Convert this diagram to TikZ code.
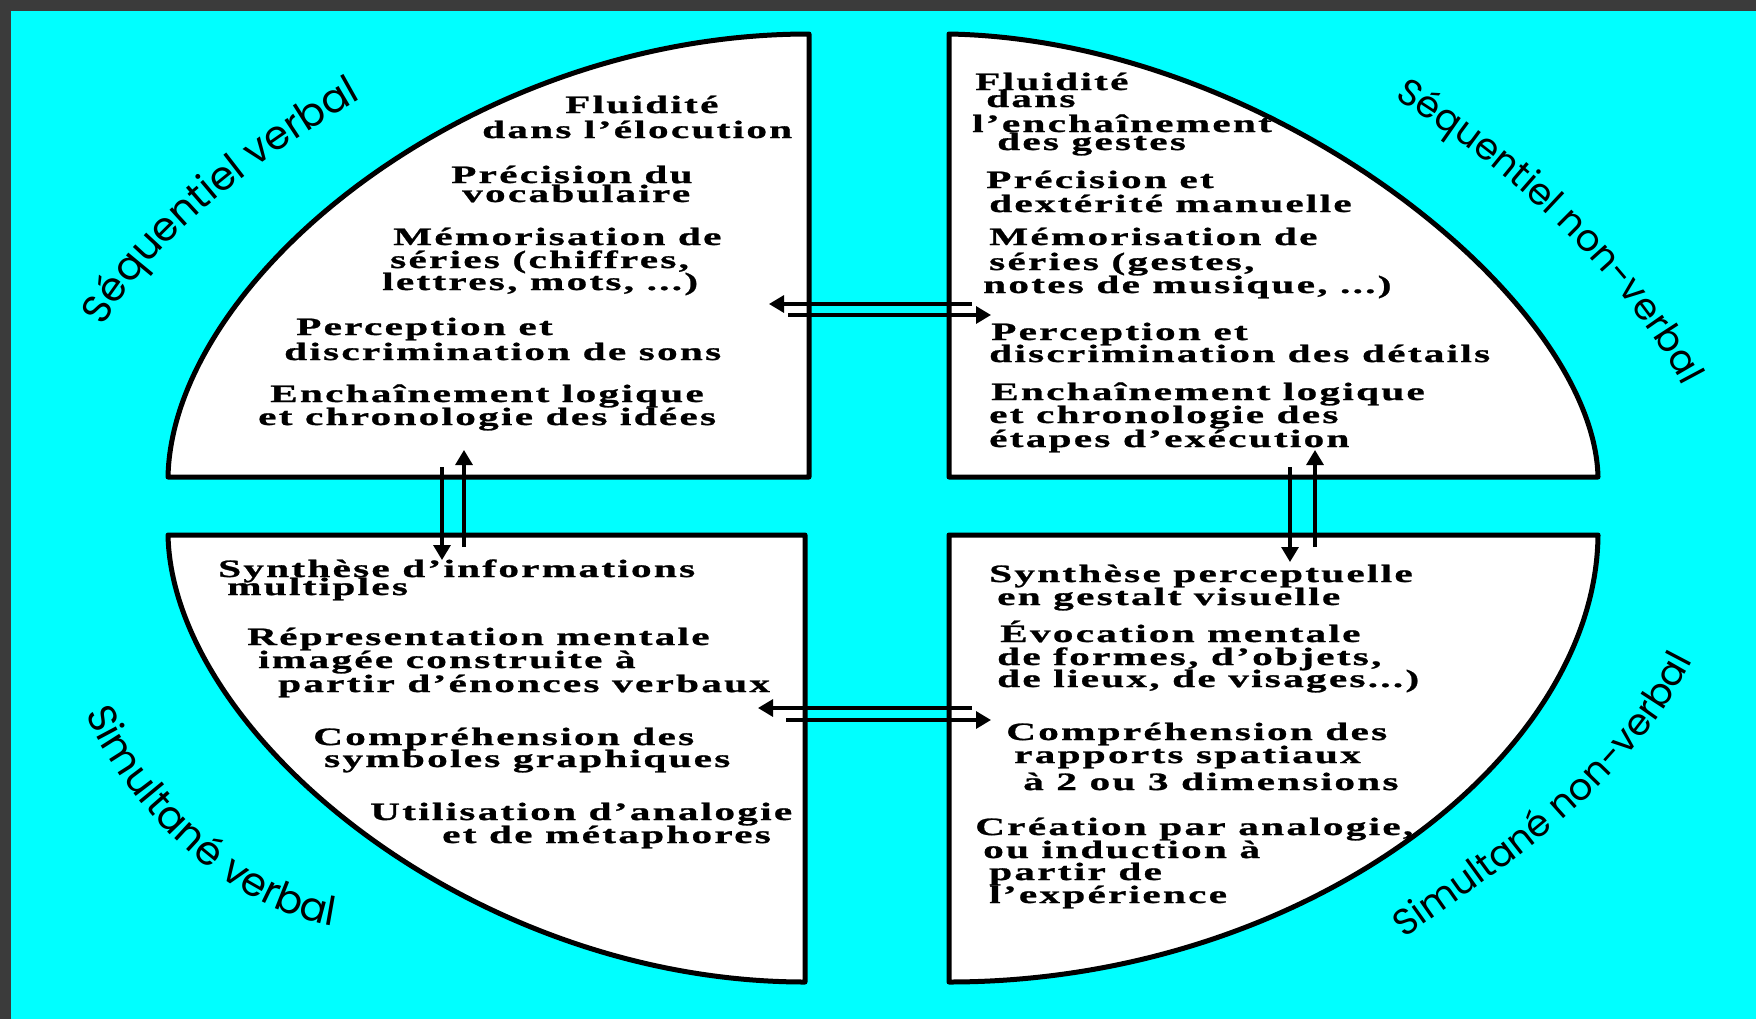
\documentclass[tikz,border=0pt]{standalone}
\usepackage{fontspec}
\usetikzlibrary{arrows.meta,decorations.text}
\newfontfamily\itemfont[FakeStretch=1.65,LetterSpace=9,FakeBold=1]{Liberation Serif}
\newfontfamily\labfont{Poppins}
\definecolor{bgcyan}{HTML}{00FFFF}
\definecolor{framegray}{HTML}{3B3B3B}
\tikzset{
    quad/.style={draw=black, fill=white, line width=5bp, line join=round},
    item/.style={font=\itemfont\bfseries\fontsize{25bp}{25bp}\selectfont, anchor=base west, inner sep=0pt},
    arr/.style={line width=3.2bp, -{Triangle[length=15bp,width=17bp]}},
    curved/.style 2 args={decorate, decoration={text along path, text align=center,
        text={|\labfont\fontsize{#1bp}{#1bp}\selectfont|#2}}}
}
\begin{document}
\begin{tikzpicture}[x=1bp,y=-1bp]
                \useasboundingbox (0,0) rectangle (1756,1019);
                \fill[framegray] (0,0) rectangle (1756,1019);
                \fill[bgcyan] (11,11) rectangle (1756,1019);

                \draw[quad] (168,477) .. controls (172,280) and (470,34) .. (809,34) -- (809,477) -- cycle;
                \draw[quad] (949,34) .. controls (1270,40) and (1594,300) .. (1598,477) -- (949,477) -- cycle;
                \draw[quad] (168,535) .. controls (172,732) and (470,982) .. (805,982) -- (805,535) -- cycle;
                \draw[quad] (949,535) -- (1598,535) .. controls (1596,760) and (1300,982) .. (949,982) -- cycle;

                \node[item] (sv1) at (565,113) {Fluidité};
                \node[item] (sv2) at (482,138) {dans l’élocution};
                \node[item] (sv3) at (451,183) {Précision du};
                \node[item] (sv4) at (462,202) {vocabulaire};
                \node[item] (sv5) at (393,245) {Mémorisation de};
                \node[item] (sv6) at (390,268) {séries (chiffres,};
                \node[item] (sv7) at (382,290) {lettres, mots, ...)};
                \node[item] (sv8) at (296,335) {Perception et};
                \node[item] (sv9) at (284,360) {discrimination de sons};
                \node[item] (sv10) at (270,402) {Enchaînement logique};
                \node[item] (sv11) at (258,425) {et chronologie des idées};

                \node[item] (snv1) at (975,90) {Fluidité};
                \node[item] (snv2) at (986,107) {dans};
                \node[item] (snv3) at (972,132) {l’enchaînement};
                \node[item] (snv4) at (997,150) {des gestes};
                \node[item] (snv5) at (986,188) {Précision et};
                \node[item] (snv6) at (989,212) {dextérité manuelle};
                \node[item] (snv7) at (989,245) {Mémorisation de};
                \node[item] (snv8) at (989,270) {séries (gestes,};
                \node[item] (snv9) at (983,293) {notes de musique, ...)};
                \node[item] (snv10) at (991,340) {Perception et};
                \node[item] (snv11) at (989,362) {discrimination des détails};
                \node[item] (snv12) at (991,400) {Enchaînement logique};
                \node[item] (snv13) at (989,423) {et chronologie des};
                \node[item] (snv14) at (989,447) {étapes d’exécution};

                \node[item] (smv1) at (218,577) {Synthèse d’informations};
                \node[item] (smv2) at (227,595) {multiples};
                \node[item] (smv3) at (247,645) {Répresentation mentale};
                \node[item] (smv4) at (258,668) {imagée construite à};
                \node[item] (smv5) at (278,692) {partir d’énonces verbaux};
                \node[item] (smv6) at (313,745) {Compréhension des};
                \node[item] (smv7) at (324,767) {symboles graphiques};
                \node[item] (smv8) at (370,820) {Utilisation d’analogie};
                \node[item] (smv9) at (442,843) {et de métaphores};

                \node[item] (smnv1) at (989,582) {Synthèse perceptuelle};
                \node[item] (smnv2) at (997,605) {en gestalt visuelle};
                \node[item] (smnv3) at (1000,642) {Évocation mentale};
                \node[item] (smnv4) at (997,665) {de formes, d’objets,};
                \node[item] (smnv5) at (997,687) {de lieux, de visages...)};
                \node[item] (smnv6) at (1006,740) {Compréhension des};
                \node[item] (smnv7) at (1014,763) {rapports spatiaux};
                \node[item] (smnv8) at (1023,790) {à 2 ou 3 dimensions};
                \node[item] (smnv9) at (975,835) {Création par analogie,};
                \node[item] (smnv10) at (983,858) {ou induction à};
                \node[item] (smnv11) at (989,880) {partir de};
                \node[item] (smnv12) at (989,903) {l’expérience};

                \coordinate (seqA) at (972,304);
                \coordinate (seqB) at (769,304);
                \coordinate (seqC) at (788,315);
                \coordinate (seqD) at (991,315);
                \coordinate (simA) at (972,708);
                \coordinate (simB) at (758,708);
                \coordinate (simC) at (786,720);
                \coordinate (simD) at (991,720);
                \coordinate (verbA) at (442,467);
                \coordinate (verbB) at (442,560);
                \coordinate (verbC) at (464,547);
                \coordinate (verbD) at (464,450);
                \coordinate (nonvA) at (1290,467);
                \coordinate (nonvB) at (1290,562);
                \coordinate (nonvC) at (1315,547);
                \coordinate (nonvD) at (1315,450);

                \draw[arr] (seqA) -- (seqB);
                \draw[arr] (seqC) -- (seqD);
                \draw[arr] (simA) -- (simB);
                \draw[arr] (simC) -- (simD);
                \draw[arr] (verbA) -- (verbB);
                \draw[arr] (verbC) -- (verbD);
                \draw[arr] (nonvA) -- (nonvB);
                \draw[arr] (nonvC) -- (nonvD);

                \path[curved={40}{Séquentiel verbal}] (105,325) .. controls (150,240) and (270,150) .. (360,100);
                \path[curved={37}{Séquentiel non-verbal}] (1376,88) .. controls (1480,145) and (1630,270) .. (1692,405);
                \path[curved={40}{Simultané verbal}] (85,711) .. controls (115,790) and (220,910) .. (336,926);
                \path[curved={37}{Simultané non-verbal}] (1386,952) .. controls (1480,880) and (1630,800) .. (1702,640);
            \end{tikzpicture}
\end{document}
